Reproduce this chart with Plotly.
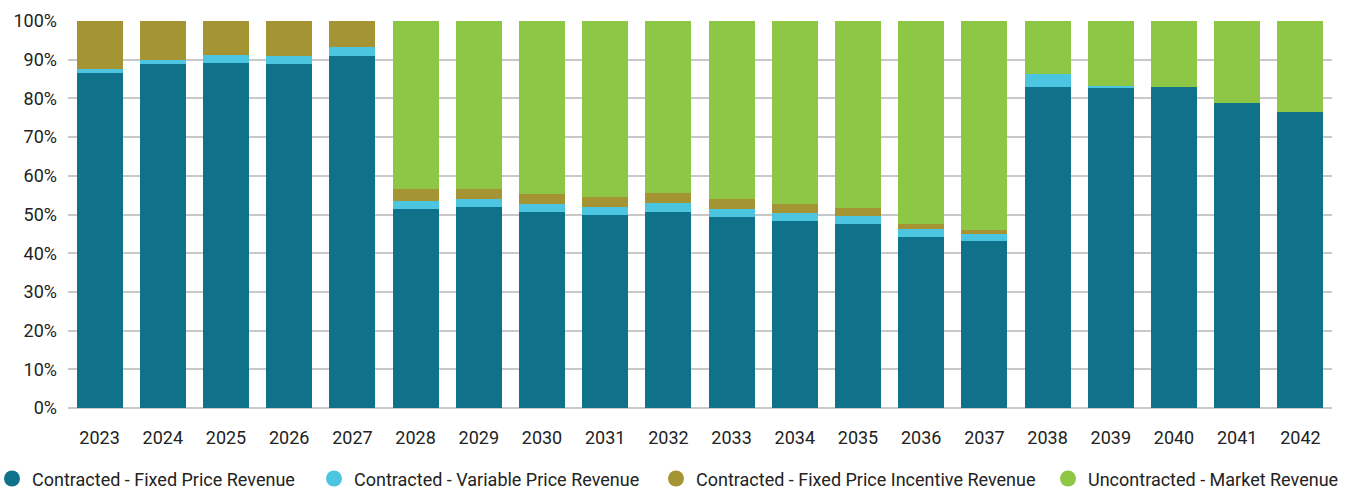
import plotly.graph_objects as go

years = [str(y) for y in range(2023, 2043)]
fixed = [86.6, 88.9, 89.1, 88.9, 91.0, 51.4, 51.9, 50.6, 49.9, 50.6,
         49.4, 48.3, 47.5, 44.2, 43.2, 82.9, 82.9, 82.9, 78.8, 76.5]
variable = [1.0, 1.0, 2.1, 2.1, 2.3, 2.1, 2.1, 2.1, 2.0, 2.4,
            2.0, 2.1, 2.1, 2.1, 1.8, 3.5, 0.4, 0.0, 0.0, 0.0]
incentive = [12.4, 10.1, 8.8, 9.0, 6.7, 3.1, 2.6, 2.6, 2.6, 2.6,
             2.6, 2.3, 2.1, 1.2, 1.0, 0.0, 0.0, 0.0, 0.0, 0.0]
market = [0.0, 0.0, 0.0, 0.0, 0.0, 43.4, 43.4, 44.7, 45.5, 44.4,
          46.0, 47.3, 48.3, 52.5, 54.0, 13.6, 16.7, 17.1, 21.2, 23.5]

series = [
    ("Contracted - Fixed Price Revenue", fixed, "#10728A"),
    ("Contracted - Variable Price Revenue", variable, "#4CC5E0"),
    ("Contracted - Fixed Price Incentive Revenue", incentive, "#A59433"),
    ("Uncontracted - Market Revenue", market, "#8EC745"),
]
# legend symbol pixel positions (layout only)
legend_symbol_px = [14, 336, 678, 1070]

L, R, T, B, W, H = 68, 21, 21, 81, 1353, 489
plot_w = W - L - R

fig = go.Figure()
for name, vals, color in series:
    fig.add_trace(go.Bar(x=years, y=vals, name=name, marker_color=color,
                         marker_line_width=0, showlegend=False,
                         hovertemplate="%{x}: %{y:.1f}%<extra>" + name + "</extra>"))

legend_layouts = {}
for i, (name, vals, color) in enumerate(series):
    key = "legend" if i == 0 else f"legend{i + 1}"
    fig.add_trace(go.Scatter(x=[None], y=[None], mode="markers", name=name,
                             legend=key,
                             marker=dict(color=color, size=16, symbol="circle")))
    legend_layouts[key] = dict(
        orientation="h", x=(legend_symbol_px[i] - 22 - L) / plot_w, xanchor="left",
        y=-0.183, yanchor="middle", bgcolor="rgba(0,0,0,0)",
        font=dict(size=18, color="#222222"), itemclick=False)

fig.update_layout(
    width=W, height=H,
    barmode="stack", bargap=0.27,
    plot_bgcolor="white", paper_bgcolor="white",
    margin=dict(l=L, r=R, t=T, b=B, autoexpand=False),
    font=dict(family="Roboto", size=18, color="#222222"),
    **legend_layouts,
)
fig.update_xaxes(type="category", showgrid=False, ticks="", showline=False,
                 automargin=False, tickfont=dict(size=18), ticklabelstandoff=17)
fig.update_yaxes(range=[0, 100], dtick=10, ticksuffix="%", showgrid=True,
                 gridcolor="#C8C8C8", gridwidth=2, zeroline=True,
                 zerolinecolor="#C8C8C8", zerolinewidth=2, showline=False,
                 automargin=False, ticks="", tickfont=dict(size=18),
                 ticklabelstandoff=10)

fig.write_html("out.html", config={"displayModeBar": False},
               post_script="document.body.style.margin='0';document.body.style.overflow='hidden';")
